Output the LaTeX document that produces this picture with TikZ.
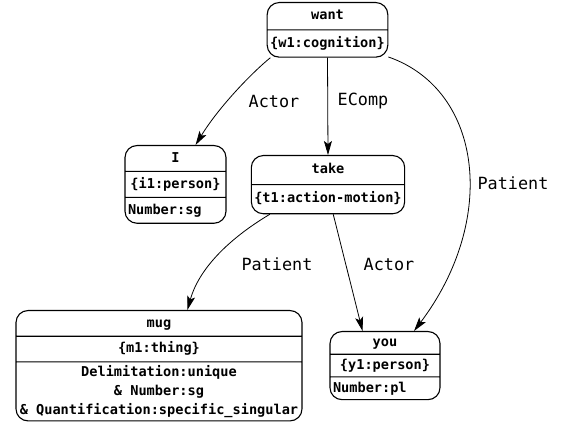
\documentclass[tikz,border=0pt]{standalone}
\usepackage{fontspec}
\usetikzlibrary{shapes.multipart,arrows.meta}
\newfontfamily\diafont{DejaVu Sans Mono}
\newlength{\du}
\setlength{\du}{15\unitlength}
\definecolor{dialinecolor}{rgb}{0.000000, 0.000000, 0.000000}
\tikzset{
  diabox/.style={rectangle split, rectangle split parts=#1, draw=dialinecolor, fill=white,
    line width=1.1pt, rounded corners=12pt, inner xsep=3pt, inner ysep=3.5pt,
    font=\diafont\bfseries\fontsize{13.6}{19}\selectfont, anchor=north, align=center},
  dialine/.style={draw=dialinecolor, line width=0.8pt,
    -{Stealth[length=14pt,width=8pt,inset=3pt]}},
  dialabel/.style={font=\diafont\fontsize{16.8}{20}\selectfont, inner sep=0pt}
}
\begin{document}
\begin{tikzpicture}
\pgftransformxscale{1.000000}
\pgftransformyscale{-1.000000}
\useasboundingbox (0.000000\du,0.000000\du) rectangle (37.533333\du,28.466667\du);
% boxes
\node[diabox=2, minimum width=7.933333\du, inner ysep=3.6pt] (want) at (21.833333\du,0.133333\du)
  {\strut want\nodepart{two}\strut\{w1:cognition\}};
\node[diabox=3, minimum width=6.733333\du, inner ysep=2.9pt, rectangle split part align={center,center,left}] (i) at (11.700000\du,9.666667\du)
  {\strut I\nodepart{two}\strut\{i1:person\}\nodepart{three}\strut Number:sg};
\node[diabox=2, minimum width=9.933333\du, inner ysep=4.5pt] (take) at (21.866667\du,10.333333\du)
  {\strut take\nodepart{two}\strut\{t1:action-motion\}};
\node[diabox=3, minimum width=19.066667\du, inner ysep=2.8pt] (mug) at (10.600000\du,20.666667\du)
  {\strut mug\nodepart{two}\strut\{m1:thing\}\nodepart{three}Delimitation:unique\\
   \& Number:sg\\ \& Quantification:specific\_singular};
\node[diabox=3, minimum width=7.333333\du, inner ysep=1.3pt, rectangle split part align={center,center,left}] (you) at (25.666667\du,22.066667\du)
  {\strut you\nodepart{two}\strut\{y1:person\}\nodepart{three}\strut Number:pl};
% relations
\draw[dialine] (want.206) .. controls (17.000000\du,4.666667\du) and (14.666667\du,7.000000\du) .. (i.63);
\draw[dialine] (want.south) -- (take.north);
\draw[dialine] (want.336) .. controls (32.200000\du,6.000000\du) and (33.200000\du,14.666667\du) .. (you.50);
\draw[dialine] (take.207) .. controls (15.666667\du,15.666667\du) and (13.333333\du,17.666667\du) .. (mug.63);
\draw[dialine] (take.280) -- (you.123);
% labels
\node[dialabel] (actori) at (18.266667\du,6.733333\du) {Actor};
\node[dialabel] (ecomp) at (24.200000\du,6.733333\du) {EComp};
\node[dialabel] (patientyou) at (34.200000\du,12.200000\du) {Patient};
\node[dialabel] (patientmug) at (18.466667\du,17.600000\du) {Patient};
\node[dialabel] (actoryou) at (25.933333\du,17.600000\du) {Actor};
\end{tikzpicture}
\end{document}
